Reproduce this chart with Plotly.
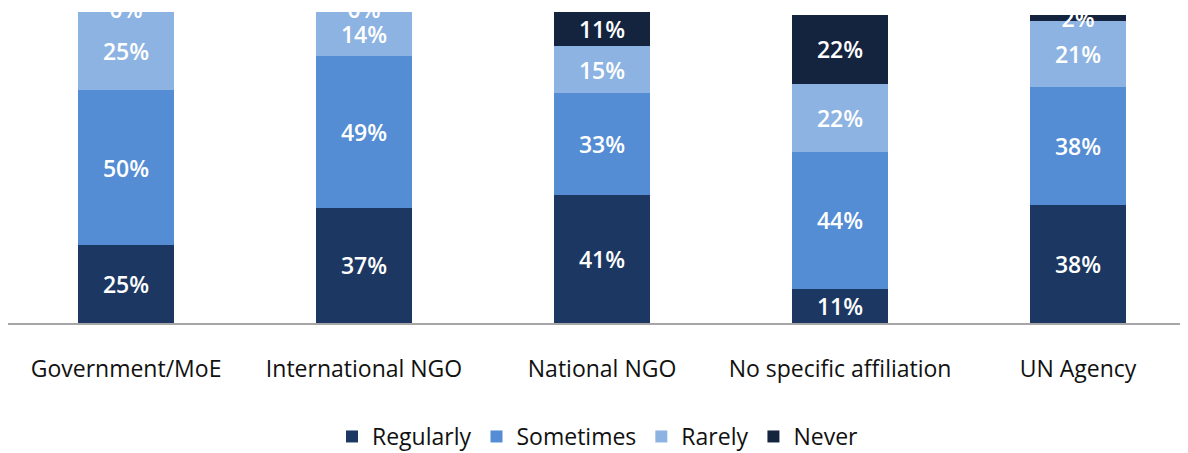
import plotly.graph_objects as go

categories = ["Government/MoE", "International NGO", "National NGO", "No specific affiliation", "UN Agency"]
regularly = [25, 37, 41, 11, 38]
sometimes = [50, 49, 33, 44, 38]
rarely = [25, 14, 15, 22, 21]
never = [0, 0, 11, 22, 2]

series = [
    ("Regularly", regularly, "#1c3862"),
    ("Sometimes", sometimes, "#548dd4"),
    ("Rarely", rarely, "#8db3e2"),
    ("Never", never, "#14243f"),
]

fig = go.Figure()
for name, vals, color in series:
    fig.add_trace(go.Bar(
        x=categories, y=vals, name=name,
        marker=dict(color=color, line=dict(width=0)),
        text=[f"{v}%" for v in vals],
        textposition="inside", insidetextanchor="middle",
        constraintext="none",
        textfont=dict(family="Open Sans", size=23, color="white", weight=600),
        cliponaxis=True,
    ))

# zero-height segments get no inside label, so put those labels at the stack top
tops = [r + s + ra for r, s, ra in zip(regularly, sometimes, rarely)]
zero_idx = [i for i, v in enumerate(never) if v == 0]
fig.add_trace(go.Scatter(
    x=[categories[i] for i in zero_idx], y=[tops[i] for i in zero_idx],
    mode="text", text=[f"{never[i]}%" for i in zero_idx], textposition="middle center",
    textfont=dict(family="Open Sans", size=23, color="white", weight=600),
    showlegend=False, hoverinfo="skip", cliponaxis=False,
))

# the page puts the figure 8px in from the top-left corner
fig.update_layout(
    barmode="stack", bargap=0.6,
    width=1180, height=445,
    margin=dict(l=0, r=0, t=4, b=130, autoexpand=False),
    plot_bgcolor="white", paper_bgcolor="white",
    font=dict(family="Open Sans", color="#111111"),
    showlegend=True,
    legend=dict(orientation="h", x=0.5, xanchor="center", y=-0.365, yanchor="middle",
                font=dict(size=23), traceorder="normal", itemwidth=30),
)
fig.update_xaxes(range=[-0.496, 4.462], showline=True, linecolor="#a6a6a6", linewidth=2,
                 ticks="", tickfont=dict(size=23, color="#111111"), ticklabelstandoff=24)
fig.update_yaxes(range=[0, 100], visible=False)

fig.write_html("out.html")
